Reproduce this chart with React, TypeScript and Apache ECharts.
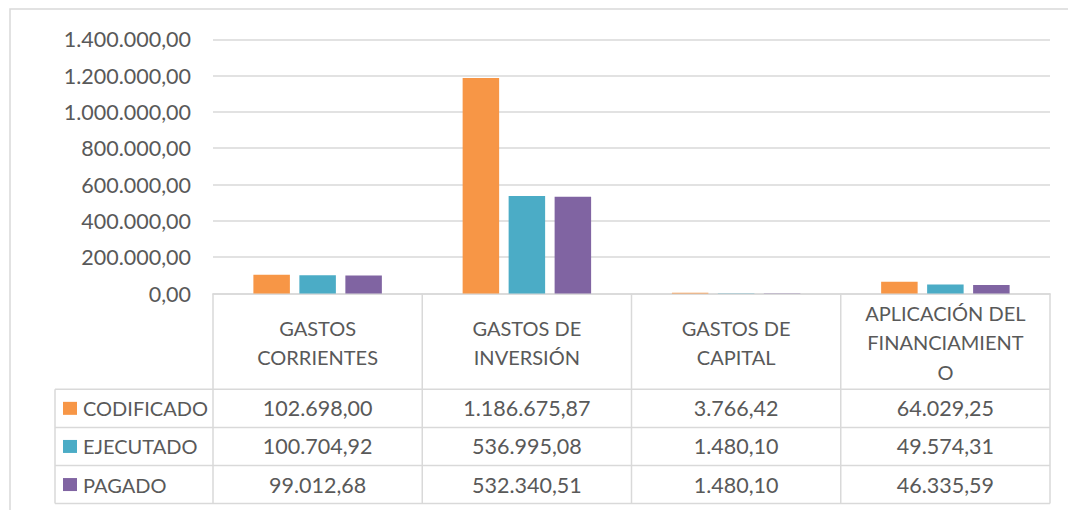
import React, { useEffect, useRef } from "react";
import * as echarts from "echarts";

const categories = ["GASTOS\nCORRIENTES", "GASTOS DE\nINVERSIÓN", "GASTOS DE\nCAPITAL", "APLICACIÓN DEL\nFINANCIAMIENT\nO"];
const seriesNames = ["CODIFICADO", "EJECUTADO", "PAGADO"];
const codificado = [102698.0, 1186675.87, 3766.42, 64029.25];
const ejecutado = [100704.92, 536995.08, 1480.1, 49574.31];
const pagado = [99012.68, 532340.51, 1480.1, 46335.59];
const yTicks = [0, 200000, 400000, 600000, 800000, 1000000, 1200000, 1400000];
const colors = ["#F79646", "#4BACC6", "#8064A2"];

const fmt = (v: number): string => {
  const fixed = Math.abs(v).toFixed(2);
  const [ip, dp] = fixed.split(".");
  const withDots = ip.replace(/\B(?=(\d{3})+(?!\d))/g, ".");
  return (v < 0 ? "-" : "") + withDots + "," + dp;
};

const W = 1068;
const H = 510;
const GRID_LEFT = 213;
const GRID_RIGHT = 1050;
const GRID_TOP = 39.3;
const GRID_BOTTOM = 293.5;
const TABLE_LEFT = 55;
const HEADER_BOTTOM = 389.3;
const ROW_H = 38.1;
const FONT = "Lato, 'Noto Sans', sans-serif";
const TEXT = "#595959";
const LINE = "#D9D9D9";
const NUM_SIZE = 21.5;

export default function App() {
  const ref = useRef<HTMLDivElement>(null);
  useEffect(() => {
    if (!ref.current) return;
    const chart = echarts.init(ref.current, null, { renderer: "svg" });
    const allSeries = [codificado, ejecutado, pagado];
    const colW = (GRID_RIGHT - GRID_LEFT) / categories.length;
    const graphics: any[] = [];
    graphics.push({
      type: "rect",
      shape: { x: 10, y: 9, width: 1200, height: 700 },
      style: { fill: "none", stroke: LINE, lineWidth: 1.5 },
      silent: true,
      z: -10,
    });
    const tableBottom = HEADER_BOTTOM + ROW_H * 3;
    for (let i = 0; i <= categories.length; i++) {
      const x = GRID_LEFT + colW * i;
      graphics.push({
        type: "line",
        shape: { x1: x, y1: GRID_BOTTOM, x2: x, y2: tableBottom },
        style: { stroke: LINE, lineWidth: 1.5 },
      });
    }
    graphics.push({
      type: "line",
      shape: { x1: TABLE_LEFT, y1: HEADER_BOTTOM, x2: TABLE_LEFT, y2: tableBottom },
      style: { stroke: LINE, lineWidth: 1.5 },
    });
    for (let r = 0; r <= 3; r++) {
      const y = HEADER_BOTTOM + ROW_H * r;
      graphics.push({
        type: "line",
        shape: { x1: TABLE_LEFT, y1: y, x2: GRID_RIGHT, y2: y },
        style: { stroke: LINE, lineWidth: 1.5 },
      });
    }
    categories.forEach((c, i) => {
      graphics.push({
        type: "text",
        x: GRID_LEFT + colW * (i + 0.5),
        y: (GRID_BOTTOM + HEADER_BOTTOM) / 2 + 1,
        style: {
          text: c,
          font: `20px ${FONT}`,
          fill: TEXT,
          align: "center",
          verticalAlign: "middle",
          lineHeight: 29.5,
        },
      });
    });
    seriesNames.forEach((name, r) => {
      const cy = HEADER_BOTTOM + ROW_H * (r + 0.5);
      graphics.push({
        type: "rect",
        shape: { x: 63, y: cy - 6.5, width: 14, height: 13 },
        style: { fill: colors[r] },
      });
      graphics.push({
        type: "text",
        x: 83,
        y: cy,
        style: { text: name, font: `20px ${FONT}`, fill: TEXT, align: "left", verticalAlign: "middle" },
      });
      allSeries[r].forEach((v, i) => {
        graphics.push({
          type: "text",
          x: GRID_LEFT + colW * (i + 0.5),
          y: cy,
          style: { text: fmt(v), font: `${NUM_SIZE}px ${FONT}`, fill: TEXT, align: "center", verticalAlign: "middle" },
        });
      });
    });

    chart.setOption({
      animation: false,
      grid: {
        left: GRID_LEFT,
        right: W - GRID_RIGHT,
        top: GRID_TOP,
        bottom: H - GRID_BOTTOM,
        containLabel: false,
      },
      xAxis: {
        type: "category",
        data: categories,
        axisLine: { show: true, lineStyle: { color: LINE, width: 1.5 } },
        axisTick: { show: false },
        axisLabel: { show: false },
      },
      yAxis: {
        type: "value",
        min: yTicks[0],
        max: yTicks[yTicks.length - 1],
        interval: yTicks[1] - yTicks[0],
        axisLine: { show: false },
        axisTick: { show: false },
        axisLabel: {
          formatter: (v: number) => fmt(v),
          color: TEXT,
          fontFamily: FONT,
          fontSize: NUM_SIZE,
          margin: 22,
        },
        splitLine: { lineStyle: { color: LINE, width: 1.5 } },
      },
      series: seriesNames.map((n, k) => ({
        name: n,
        type: "bar",
        data: allSeries[k],
        barWidth: 36.5,
        barGap: "26%",
        itemStyle: { color: colors[k] },
      })),
      graphic: graphics,
    });
    return () => chart.dispose();
  }, []);
  return <div ref={ref} style={{ position: "absolute", left: 0, top: 0, width: W, height: H, background: "#fff" }} />;
}
